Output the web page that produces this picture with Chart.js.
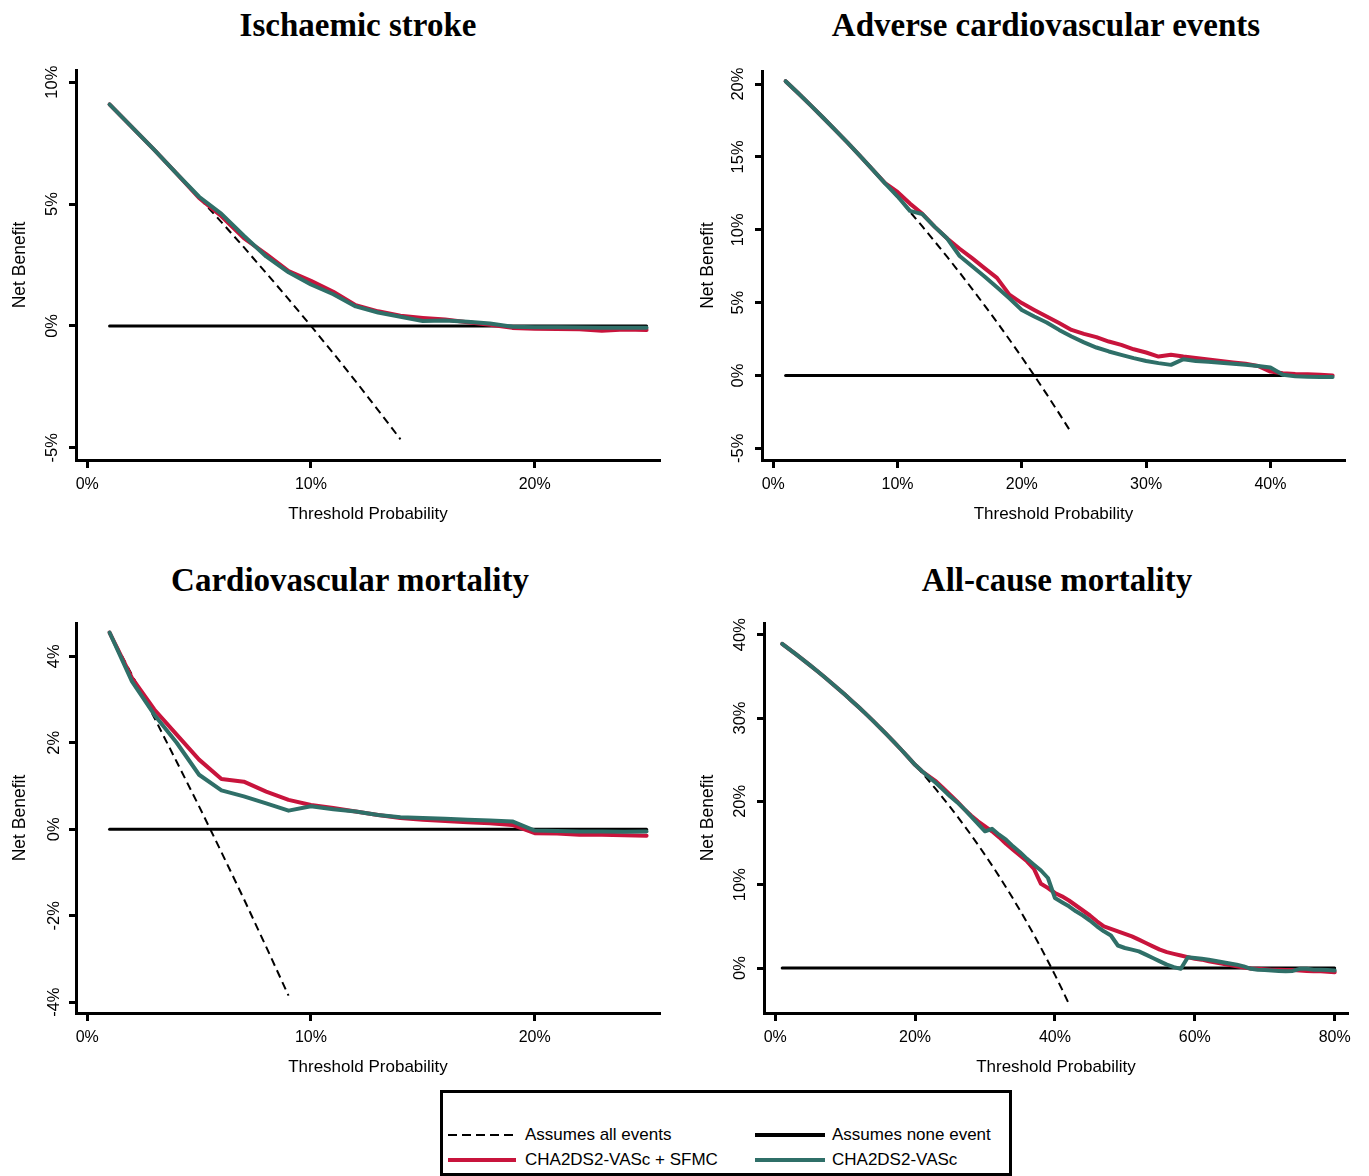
<!DOCTYPE html>
<html>
<head>
<meta charset="utf-8">
<script src="https://cdn.jsdelivr.net/npm/chart.js@4.4.1/dist/chart.umd.min.js"></script>
<style>
  html, body { margin: 0; padding: 0; background: #fff; }
  body { position: relative; width: 1369px; height: 1176px; overflow: hidden; font-family: 'Liberation Sans', Arial, sans-serif; }
  canvas { position: absolute; }
  .title { position: absolute; font: bold 33px 'Liberation Serif', 'Times New Roman', serif; line-height: 33px; white-space: nowrap; transform: translateX(-50%); color: #000; }
  #legend { position: absolute; left: 440px; top: 1090px; width: 572px; height: 86px; border: 3px solid #000; box-sizing: border-box; background: #fff; }
  .item { position: absolute; height: 20px; font-size: 17px; line-height: 20px; white-space: nowrap; color: #000; }
  .item svg { position: absolute; left: 0; top: 7px; }
  .item span { position: absolute; left: 77px; top: 0; }
</style>
</head>
<body>
<div class="title" style="left:358px; top:9px">Ischaemic stroke</div>
<div class="title" style="left:1046px; top:9px">Adverse cardiovascular events</div>
<div class="title" style="left:350px; top:564px">Cardiovascular mortality</div>
<div class="title" style="left:1057px; top:564px">All-cause mortality</div>

<canvas id="stroke" width="684" height="545" style="left:0; top:0"></canvas>
<canvas id="mace" width="685" height="545" style="left:684px; top:0"></canvas>
<canvas id="cvDeath" width="684" height="545" style="left:0; top:553px"></canvas>
<canvas id="allDeath" width="685" height="545" style="left:684px; top:553px"></canvas>

<div id="legend">
  <div class="item" style="left:5px; top:32px">
    <svg width="68" height="6"><line x1="0" y1="3" x2="68" y2="3" stroke="#000" stroke-width="2" stroke-dasharray="9 5"/></svg>
    <span>Assumes all events</span>
  </div>
  <div class="item" style="left:312px; top:32px">
    <svg width="70" height="6"><line x1="0" y1="3" x2="70" y2="3" stroke="#000" stroke-width="4"/></svg>
    <span>Assumes none event</span>
  </div>
  <div class="item" style="left:5px; top:57px">
    <svg width="68" height="6"><line x1="0" y1="3" x2="68" y2="3" stroke="#c8143c" stroke-width="4"/></svg>
    <span>CHA2DS2-VASc + SFMC</span>
  </div>
  <div class="item" style="left:312px; top:57px">
    <svg width="70" height="6"><line x1="0" y1="3" x2="70" y2="3" stroke="#2f6f68" stroke-width="4"/></svg>
    <span>CHA2DS2-VASc</span>
  </div>
</div>

<script>
const RED = '#c8143c';
const TEAL = '#2f6f68';

// Ischaemic stroke
const strokeThr = [1,2,3,4,5,6,7,8,9,10,11,12,13,14,15,16,17,18,19,20,21,22,23,24,25];
const strokeAll = [9.09,8.16,7.22,6.25,5.26,4.26,3.23,2.17,1.10,0.00,-1.12,-2.27,-3.45,-4.65];
const strokeSfmc = [9.09,8.16,7.22,6.25,5.25,4.5,3.6,2.95,2.25,1.85,1.4,0.85,0.6,0.42,0.33,0.26,0.15,0.05,-0.08,-0.12,-0.13,-0.14,-0.2,-0.15,-0.17];
const strokeBase = [9.09,8.16,7.22,6.25,5.3,4.6,3.7,2.85,2.2,1.7,1.3,0.8,0.55,0.38,0.2,0.22,0.17,0.1,-0.03,-0.05,-0.05,-0.06,-0.07,-0.07,-0.07];
const strokeXTicks = [0, 10, 20];
const strokeYTicks = [-5, 0, 5, 10];

// Adverse cardiovascular events
const maceThr = [1,2,3,4,5,6,7,8,9,10,11,12,13,14,15,16,17,18,19,20,21,22,23,24,25,26,27,28,29,30,31,32,33,34,35,36,37,38,39,40,41,42,43,44,45];
const maceAll = [20.2,19.39,18.56,17.71,16.84,15.96,15.05,14.13,13.19,12.22,11.24,10.23,9.19,8.14,7.06,5.95,4.82,3.66,2.47,1.25,0.0,-1.28,-2.6,-3.95];
const maceSfmc = [20.2,19.39,18.56,17.71,16.84,15.96,15.05,14.13,13.2,12.6,11.8,11.1,10.2,9.4,8.7,8.05,7.37,6.7,5.55,4.97,4.5,4.05,3.6,3.13,2.86,2.63,2.33,2.1,1.8,1.58,1.3,1.42,1.3,1.2,1.1,1.0,0.9,0.8,0.65,0.27,0.15,0.1,0.08,0.05,0.0];
const maceBase = [20.2,19.39,18.56,17.71,16.84,15.96,15.05,14.13,13.19,12.3,11.3,11.08,10.2,9.4,8.2,7.5,6.8,6.06,5.3,4.5,4.05,3.64,3.13,2.68,2.27,1.92,1.65,1.42,1.19,1.0,0.85,0.73,1.12,1.0,0.95,0.88,0.8,0.73,0.65,0.55,0.05,-0.05,-0.08,-0.1,-0.1];
const maceXTicks = [0, 10, 20, 30, 40];
const maceYTicks = [-5, 0, 5, 10, 15, 20];

// Cardiovascular mortality
const cvThr = [1,2,3,4,5,6,7,8,9,10,11,12,13,14,15,16,17,18,19,20,21,22,23,24,25];
const cvAll = [4.55,3.57,2.58,1.56,0.53,-0.53,-1.61,-2.72,-3.85];
const cvSfmc = [4.55,3.5,2.77,2.19,1.61,1.16,1.1,0.87,0.68,0.56,0.49,0.41,0.33,0.26,0.22,0.19,0.16,0.14,0.1,-0.09,-0.1,-0.13,-0.13,-0.14,-0.15];
const cvBase = [4.55,3.42,2.65,2.0,1.26,0.9,0.76,0.6,0.43,0.53,0.46,0.41,0.33,0.28,0.26,0.24,0.22,0.2,0.18,-0.03,-0.04,-0.05,-0.05,-0.06,-0.05];
const cvXTicks = [0, 10, 20];
const cvYTicks = [-4, -2, 0, 2, 4];

// All-cause mortality
const allThr = [1,2,3,4,5,6,7,8,9,10,11,12,13,14,15,16,17,18,19,20,21,22,23,24,25,26,27,28,29,30,31,32,33,34,35,36,37,38,39,40,
  41,42,43,44,45,46,47,48,49,50,51,52,53,54,55,56,57,58,59,60,61,62,63,64,65,66,67,68,69,70,71,72,73,74,75,76,77,78,79,80];
const allAll = [38.89,38.27,37.63,36.98,36.32,35.64,34.95,34.24,33.52,32.78,32.02,31.25,30.46,29.65,28.82,27.98,27.11,26.22,25.31,24.38,
  23.42,22.44,21.43,20.39,19.33,18.24,17.12,15.97,14.79,13.57,12.32,11.03,9.7,8.33,6.92,5.47,3.97,2.42,0.82,-0.83,-2.54,-4.31];
const allSfmc = [38.89,38.27,37.63,36.98,36.32,35.64,34.95,34.24,33.52,32.78,32.02,31.25,30.46,29.65,28.82,27.98,27.11,26.22,25.31,24.38,
  23.6,23.0,22.4,21.6,20.8,20.0,19.1,18.3,17.6,17.0,16.4,15.7,14.9,14.2,13.5,12.8,11.9,10.1,9.6,9.0,
  8.6,8.1,7.5,6.9,6.3,5.6,5.0,4.7,4.4,4.1,3.8,3.4,3.0,2.6,2.2,1.9,1.7,1.5,1.3,1.1,
  1.0,0.8,0.65,0.5,0.35,0.2,0.05,-0.05,-0.1,-0.15,-0.2,-0.2,-0.25,-0.25,-0.3,-0.35,-0.4,-0.4,-0.45,-0.5];
const allBase = [38.89,38.27,37.63,36.98,36.32,35.64,34.95,34.24,33.52,32.78,32.02,31.25,30.46,29.65,28.82,27.98,27.11,26.22,25.31,24.38,
  23.6,22.9,22.2,21.4,20.6,19.9,19.1,18.2,17.3,16.4,16.7,16.0,15.4,14.6,13.9,13.1,12.4,11.7,10.8,8.4,
  7.9,7.4,6.8,6.3,5.7,5.0,4.4,3.9,2.7,2.4,2.2,2.0,1.6,1.2,0.8,0.4,0.1,-0.1,1.3,1.2,
  1.1,1.0,0.85,0.7,0.55,0.4,0.2,-0.1,-0.2,-0.25,-0.3,-0.35,-0.4,-0.35,-0.1,-0.1,-0.2,-0.2,-0.25,-0.3];
const allXTicks = [0, 20, 40, 60, 80];
const allYTicks = [0, 10, 20, 30, 40];

const FONT = 'Liberation Sans';
const pts = (xs, ys) => ys.map((y, i) => ({ x: xs[i], y }));

function drawPanel(id, p) {
  const line = (label, data, color, width, order, dash) => ({
    label, data, borderColor: color, borderWidth: width, order,
    borderDash: dash || [], borderCapStyle: dash ? 'butt' : 'round', borderJoinStyle: 'round',
    pointRadius: 0, fill: false, tension: 0
  });
  return new Chart(document.getElementById(id), {
    type: 'line',
    data: {
      datasets: [
        line('CHA2DS2-VASc', pts(p.thr, p.base), TEAL, 4, 0),
        line('CHA2DS2-VASc + SFMC', pts(p.thr, p.sfmc), RED, 4, 1),
        line('Assumes none event', pts(p.thr, p.thr.map(() => 0)), '#000', 3, 2),
        line('Assumes all events', pts(p.thr, p.all), '#000', 2, 3, [8, 5])
      ]
    },
    options: {
      responsive: false,
      animation: false,
      devicePixelRatio: 1,
      layout: { padding: { top: p.padTop, right: p.padRight, left: 0, bottom: 0 } },
      plugins: { legend: { display: false }, tooltip: { enabled: false } },
      scales: {
        x: {
          type: 'linear', min: p.xMin, max: p.xMax,
          afterBuildTicks: s => { s.ticks = p.xTicks.map(v => ({ value: v })); },
          afterFit: s => { s.height = 85; },
          ticks: { color: '#000', font: { family: FONT, size: 16 }, padding: 7, maxRotation: 0, autoSkip: false, callback: v => v + '%' },
          grid: { drawOnChartArea: false, tickLength: 8, tickWidth: 3, tickColor: '#000' },
          border: { color: '#000', width: 3 },
          title: { display: true, text: 'Threshold Probability', color: '#000', font: { family: FONT, size: 17 }, padding: { top: 0, bottom: 20 } }
        },
        y: {
          type: 'linear', min: p.yMin, max: p.yMax,
          afterBuildTicks: s => { s.ticks = p.yTicks.map(v => ({ value: v })); },
          afterFit: s => { s.width = p.yWidth; },
          ticks: { color: '#000', font: { family: FONT, size: 16.5 }, padding: 0, minRotation: 90, maxRotation: 90, crossAlign: 'center', autoSkip: false, callback: v => v + '%' },
          grid: { drawOnChartArea: false, tickLength: 7, tickWidth: 3, tickColor: '#000' },
          border: { color: '#000', width: 3 },
          title: { display: true, text: 'Net Benefit', color: '#000', font: { family: FONT, size: 17.5 }, padding: { top: p.titlePad, bottom: 0 } }
        }
      }
    }
  });
}

drawPanel('stroke', {
  thr: strokeThr, all: strokeAll, sfmc: strokeSfmc, base: strokeBase,
  xTicks: strokeXTicks, yTicks: strokeYTicks,
  xMin: -0.5, xMax: 25.6, yMin: -5.5, yMax: 10.5,
  padTop: 70, padRight: 24, yWidth: 76, titlePad: 9.2
});
drawPanel('mace', {
  thr: maceThr, all: maceAll, sfmc: maceSfmc, base: maceBase,
  xTicks: maceXTicks, yTicks: maceYTicks,
  xMin: -0.9, xMax: 46.0, yMin: -5.8, yMax: 20.9,
  padTop: 71, padRight: 24, yWidth: 78, titlePad: 14
});
drawPanel('cvDeath', {
  thr: cvThr, all: cvAll, sfmc: cvSfmc, base: cvBase,
  xTicks: cvXTicks, yTicks: cvYTicks,
  xMin: -0.5, xMax: 25.6, yMin: -4.25, yMax: 4.77,
  padTop: 70, padRight: 24, yWidth: 76, titlePad: 9.2
});
drawPanel('allDeath', {
  thr: allThr, all: allAll, sfmc: allSfmc, base: allBase,
  xTicks: allXTicks, yTicks: allYTicks,
  xMin: -1.6, xMax: 81.9, yMin: -5.4, yMax: 41.4,
  padTop: 70, padRight: 21, yWidth: 80, titlePad: 14
});
</script>
</body>
</html>
